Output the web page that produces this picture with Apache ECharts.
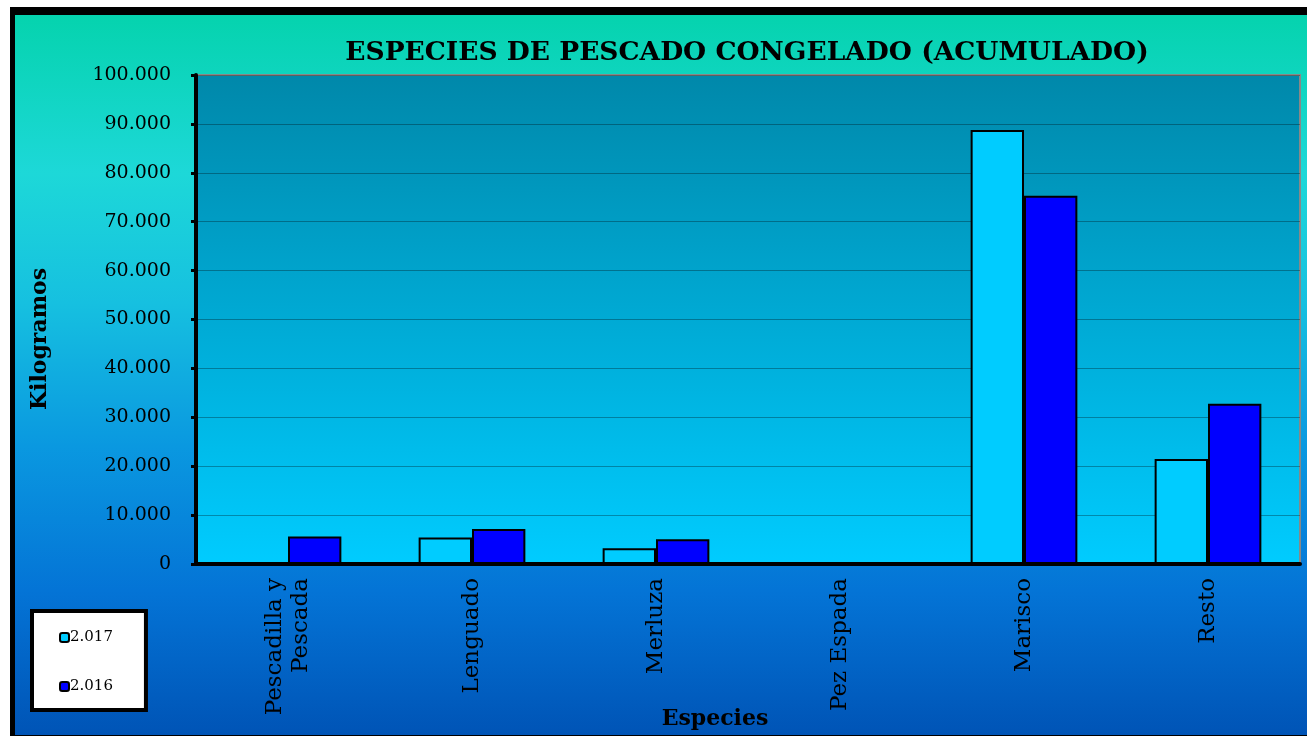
<!DOCTYPE html>
<html>
<head>
    <meta charset="utf-8">
    <title>Especies de pescado congelado</title>
    <style type="text/css">
        body {
            margin: 0;
            background: #fff;
        }
        html, body, #chart {
            width: 1307px;
            height: 736px;
        }
    </style>
</head>
<body>

    <div id="chart"></div>
    <script src="https://cdn.jsdelivr.net/npm/echarts@6/dist/echarts.min.js"></script>

    <script>
        var especies = ['Pescadilla y\nPescada', 'Lenguado', 'Merluza', 'Pez Espada', 'Marisco', 'Resto'];
        var datos2017 = [0, 5400, 3200, 0, 88750, 21450];
        var datos2016 = [5600, 7150, 5050, 0, 75300, 32750];
        var anios = ['2.017', '2.016'];

        var fuente = 'DejaVu Serif';
        var chart = echarts.init(document.getElementById('chart'));

        function miles(v) {
            return String(v).replace(/\B(?=(\d{3})+(?!\d))/g, '.');
        }

        chart.setOption({
            backgroundColor: '#fff',
            graphic: [
                // marco negro y fondo degradado
                {
                    type: 'rect', z: -10, silent: true,
                    shape: { x: 10, y: 7, width: 1297, height: 729 },
                    style: { fill: '#000' }
                },
                {
                    type: 'rect', z: -9, silent: true,
                    shape: { x: 15, y: 15, width: 1292, height: 720 },
                    style: {
                        fill: new echarts.graphic.LinearGradient(0, 0, 0, 1, [
                            { offset: 0, color: '#05d3ae' },
                            { offset: 0.22, color: '#1dd8d8' },
                            { offset: 0.4, color: '#16c0e0' },
                            { offset: 0.6, color: '#0a98e0' },
                            { offset: 0.8, color: '#0474d6' },
                            { offset: 1, color: '#0054b6' }
                        ])
                    }
                },
                {
                    type: 'text', x: 715, y: 719,
                    style: {
                        text: 'Especies', font: 'bold 22px "DejaVu Serif"', fill: '#000',
                        align: 'center', verticalAlign: 'middle'
                    }
                },
                {
                    type: 'text', x: 40, y: 339, rotation: Math.PI / 2,
                    style: {
                        text: 'Kilogramos', font: 'bold 22px "DejaVu Serif"', fill: '#000',
                        align: 'center', verticalAlign: 'middle'
                    }
                }
            ],
            title: {
                text: 'ESPECIES DE PESCADO CONGELADO (ACUMULADO)',
                left: 742,
                top: 35,
                textAlign: 'center',
                textStyle: {
                    fontFamily: fuente,
                    fontWeight: 'bold',
                    fontSize: 26.5,
                    color: '#000'
                }
            },
            legend: {
                orient: 'vertical',
                left: 32,
                top: 611,
                data: anios,
                itemWidth: 9,
                itemHeight: 9,
                itemGap: 34,
                padding: [19, 33, 16, 27],
                backgroundColor: '#fff',
                borderColor: '#000',
                borderWidth: 4,
                borderRadius: 0,
                itemStyle: { borderColor: '#000', borderWidth: 2 },
                textStyle: {
                    fontFamily: fuente,
                    fontSize: 15,
                    color: '#000',
                    padding: [0, 0, 0, -4]
                }
            },
            grid: {
                left: 196,
                right: 7,
                top: 75,
                bottom: 172,
                show: true,
                borderColor: '#888',
                borderWidth: 2,
                backgroundColor: new echarts.graphic.LinearGradient(0, 0, 0, 1, [
                    { offset: 0, color: '#0088aa' },
                    { offset: 1, color: '#00ccff' }
                ])
            },
            xAxis: {
                type: 'category',
                data: especies,
                axisLine: { lineStyle: { color: '#000', width: 4 } },
                axisTick: { length: 5, lineStyle: { color: '#000', width: 3 } },
                axisLabel: {
                    rotate: 90,
                    margin: 14,
                    fontFamily: fuente,
                    fontSize: 23,
                    lineHeight: 26,
                    color: '#000'
                }
            },
            yAxis: {
                type: 'value',
                min: 0,
                max: 100000,
                interval: 10000,
                axisLine: { show: true, lineStyle: { color: '#000', width: 4 } },
                axisTick: { show: true, length: 5, lineStyle: { color: '#000', width: 3 } },
                splitLine: { lineStyle: { color: 'rgba(0,0,0,0.3)', width: 1 } },
                axisLabel: {
                    margin: 25,
                    fontFamily: fuente,
                    fontSize: 19,
                    color: '#000',
                    formatter: miles
                }
            },
            series: [
                {
                    name: anios[0],
                    type: 'bar',
                    data: datos2017,
                    barGap: '0%',
                    barCategoryGap: '42%',
                    itemStyle: { color: '#00ccff', borderColor: '#000', borderWidth: 2 }
                },
                {
                    name: anios[1],
                    type: 'bar',
                    data: datos2016,
                    barGap: '0%',
                    barCategoryGap: '42%',
                    itemStyle: { color: '#0000ff', borderColor: '#000', borderWidth: 2 }
                }
            ]
        });

        window.addEventListener('resize', function () {
            chart.resize();
        });
    </script>
</body>
</html>
